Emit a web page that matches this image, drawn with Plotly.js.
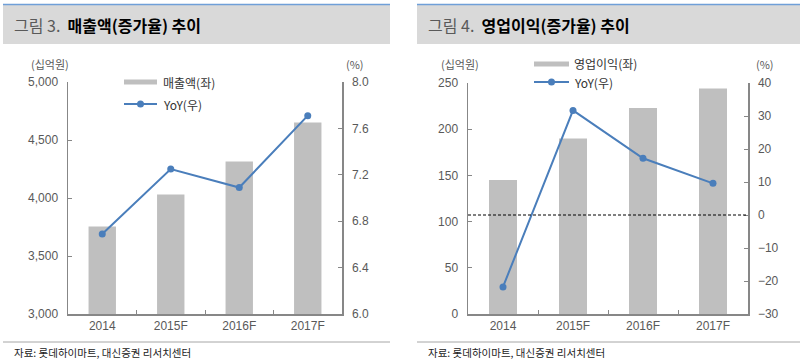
<!DOCTYPE html>
<html>
<head>
<meta charset="utf-8">
<script src="https://cdn.plot.ly/plotly-3.0.1.min.js"></script>
<style>html,body{margin:0;padding:0;background:#fff;}#chart{width:800px;height:361px;}</style>
</head>
<body>
<div id="chart"></div>
<script>
// ---- data ----
const categories = ['2014', '2015F', '2016F', '2017F'];
const salesValues = [3755, 4030, 4315, 4650];      // 매출액 (십억원)
const salesYoY = [6.69, 7.25, 7.09, 7.71];          // YoY (%)
const opValues = [145, 190, 223, 244];             // 영업이익 (십억원)
const opYoY = [-21.8, 31.7, 17.2, 9.6];            // YoY (%)
const leftTitleNum = '그림 3.';
const leftTitle = '매출액(증가율) 추이';
const rightTitleNum = '그림 4.';
const rightTitle = '영업이익(증가율) 추이';
const salesLegend = '매출액(좌)';
const opLegend = '영업이익(좌)';
const yoyLegend = 'YoY(우)';
const unitLeft = '(십억원)';
const unitRight = '(%)';
const sourceText = '자료: 롯데하이마트, 대신증권 리서치센터';

// ---- layout helpers ----
const W = 800, H = 361;
const px = x => x / W;
const py = y => 1 - y / H;

const barColor = '#bfbfbf';
const lineColor = '#4a7ebb';
const axisColor = '#878787';
const tickFont = {family: 'Liberation Sans, Arial, sans-serif', size: 12, color: '#595959'};
const kr = 'Noto Sans CJK KR, Noto Sans, sans-serif';

const traces = [
  {type: 'bar', x: categories, y: salesValues, xaxis: 'x', yaxis: 'y',
   marker: {color: barColor}, width: 0.4, hoverinfo: 'skip', showlegend: false},
  {type: 'scatter', mode: 'lines+markers', x: categories, y: salesYoY, xaxis: 'x', yaxis: 'y2',
   line: {color: lineColor, width: 2}, marker: {color: lineColor, size: 7}, showlegend: false},
  {type: 'bar', x: categories, y: opValues, xaxis: 'x2', yaxis: 'y3',
   marker: {color: barColor}, width: 0.4, hoverinfo: 'skip', showlegend: false},
  {type: 'scatter', mode: 'lines+markers', x: categories, y: opYoY, xaxis: 'x2', yaxis: 'y4',
   line: {color: lineColor, width: 2}, marker: {color: lineColor, size: 7}, showlegend: false}
];

const xCommon = {
  type: 'category', showline: true, linecolor: axisColor, linewidth: 1.5,
  ticks: 'inside', tickson: 'boundaries', ticklen: 4, tickcolor: axisColor, tickwidth: 1,
  showgrid: false, zeroline: false, tickfont: tickFont, fixedrange: true
};
const yCommon = {
  showline: true, linecolor: axisColor, linewidth: 1.5,
  ticks: 'inside', ticklen: 4, tickcolor: axisColor, tickwidth: 1,
  showgrid: false, zeroline: false, tickfont: tickFont, ticklabelstandoff: 6, fixedrange: true
};

const leftDomX = [px(68), px(342)];
const rightDomX = [px(468), px(748)];
const domY = [py(314), py(82)];
const domY2 = [py(314), py(83)];

const layout = {
  width: W, height: H,
  margin: {l: 0, r: 0, t: 0, b: 0},
  paper_bgcolor: '#fff', plot_bgcolor: 'rgba(0,0,0,0)',
  showlegend: false,
  bargap: 0.6,
  xaxis: Object.assign({}, xCommon, {domain: leftDomX, anchor: 'y'}),
  yaxis: Object.assign({}, yCommon, {domain: domY, anchor: 'x', range: [3000, 5000], dtick: 500, tickformat: ','}),
  yaxis2: Object.assign({}, yCommon, {overlaying: 'y', side: 'right', anchor: 'x', range: [6.0, 8.0], dtick: 0.4, tickformat: '.1f'}),
  xaxis2: Object.assign({}, xCommon, {domain: rightDomX, anchor: 'y3'}),
  yaxis3: Object.assign({}, yCommon, {domain: domY2, anchor: 'x2', range: [0, 250], dtick: 50}),
  yaxis4: Object.assign({}, yCommon, {overlaying: 'y3', side: 'right', anchor: 'x2', range: [-30, 40], dtick: 10}),
  shapes: [
    // header bands
    {type: 'rect', xref: 'paper', yref: 'paper', x0: px(3), x1: px(390), y0: py(44), y1: py(4), fillcolor: '#d9d9d9', line: {width: 0}, layer: 'below'},
    {type: 'line', xref: 'paper', yref: 'paper', x0: px(3), x1: px(390), y0: py(4.5), y1: py(4.5), line: {color: '#6f9fd8', width: 1.5}},
    {type: 'rect', xref: 'paper', yref: 'paper', x0: px(417), x1: px(800), y0: py(44), y1: py(4), fillcolor: '#d9d9d9', line: {width: 0}, layer: 'below'},
    {type: 'line', xref: 'paper', yref: 'paper', x0: px(417), x1: px(800), y0: py(4.5), y1: py(4.5), line: {color: '#6f9fd8', width: 1.5}},
    // footer lines
    {type: 'line', xref: 'paper', yref: 'paper', x0: px(3), x1: px(390), y0: py(342), y1: py(342), line: {color: '#a6a6a6', width: 1}},
    {type: 'line', xref: 'paper', yref: 'paper', x0: px(417), x1: px(800), y0: py(342), y1: py(342), line: {color: '#a6a6a6', width: 1}},
    // zero line on right chart
    {type: 'line', xref: 'x2 domain', yref: 'y4', x0: 0, x1: 1, y0: 0, y1: 0, line: {color: '#000', width: 1, dash: '3px,2px'}},
    // left legend
    {type: 'rect', xref: 'paper', yref: 'paper', x0: px(124), x1: px(157), y0: py(84.5), y1: py(79.5), fillcolor: barColor, line: {width: 0}},
    {type: 'line', xref: 'paper', yref: 'paper', x0: px(124), x1: px(157), y0: py(104), y1: py(104), line: {color: lineColor, width: 2}},
    {type: 'circle', xref: 'paper', yref: 'paper', x0: px(137), x1: px(144), y0: py(107.5), y1: py(100.5), fillcolor: lineColor, line: {width: 0}},
    // right legend
    {type: 'rect', xref: 'paper', yref: 'paper', x0: px(534), x1: px(569), y0: py(66.5), y1: py(61.5), fillcolor: barColor, line: {width: 0}},
    {type: 'line', xref: 'paper', yref: 'paper', x0: px(534), x1: px(569), y0: py(82), y1: py(82), line: {color: lineColor, width: 2}},
    {type: 'circle', xref: 'paper', yref: 'paper', x0: px(548), x1: px(555), y0: py(85.5), y1: py(78.5), fillcolor: lineColor, line: {width: 0}}
  ],
  annotations: [
    // headers
    {xref: 'paper', yref: 'paper', x: px(12), y: py(25), xanchor: 'left', yanchor: 'middle', showarrow: false,
     text: '<span style="color:#595959">' + leftTitleNum + '</span>  <b>' + leftTitle + '</b>', font: {family: kr, size: 16, color: '#000'}},
    {xref: 'paper', yref: 'paper', x: px(426), y: py(25), xanchor: 'left', yanchor: 'middle', showarrow: false,
     text: '<span style="color:#595959">' + rightTitleNum + '</span>  <b>' + rightTitle + '</b>', font: {family: kr, size: 16, color: '#000'}},
    // units
    {xref: 'paper', yref: 'paper', x: px(50), y: py(64), xanchor: 'center', yanchor: 'middle', showarrow: false, text: unitLeft, font: {family: kr, size: 11, color: '#595959'}},
    {xref: 'paper', yref: 'paper', x: px(355), y: py(64), xanchor: 'center', yanchor: 'middle', showarrow: false, text: unitRight, font: {family: kr, size: 11, color: '#595959'}},
    {xref: 'paper', yref: 'paper', x: px(460), y: py(64), xanchor: 'center', yanchor: 'middle', showarrow: false, text: unitLeft, font: {family: kr, size: 11, color: '#595959'}},
    {xref: 'paper', yref: 'paper', x: px(765), y: py(64), xanchor: 'center', yanchor: 'middle', showarrow: false, text: unitRight, font: {family: kr, size: 11, color: '#595959'}},
    // legend texts
    {xref: 'paper', yref: 'paper', x: px(161), y: py(82), xanchor: 'left', yanchor: 'middle', showarrow: false, text: salesLegend, font: {family: kr, size: 12, color: '#333'}},
    {xref: 'paper', yref: 'paper', x: px(161), y: py(104), xanchor: 'left', yanchor: 'middle', showarrow: false, text: yoyLegend, font: {family: kr, size: 12, color: '#333'}},
    {xref: 'paper', yref: 'paper', x: px(572), y: py(64), xanchor: 'left', yanchor: 'middle', showarrow: false, text: opLegend, font: {family: kr, size: 12, color: '#333'}},
    {xref: 'paper', yref: 'paper', x: px(572), y: py(82), xanchor: 'left', yanchor: 'middle', showarrow: false, text: yoyLegend, font: {family: kr, size: 12, color: '#333'}},
    // sources
    {xref: 'paper', yref: 'paper', x: px(12), y: py(352), xanchor: 'left', yanchor: 'middle', showarrow: false, text: sourceText, font: {family: kr, size: 10.5, color: '#222'}},
    {xref: 'paper', yref: 'paper', x: px(426), y: py(352), xanchor: 'left', yanchor: 'middle', showarrow: false, text: sourceText, font: {family: kr, size: 10.5, color: '#222'}}
  ]
};

Plotly.newPlot('chart', traces, layout, {staticPlot: true, displayModeBar: false});
</script>
</body>
</html>
